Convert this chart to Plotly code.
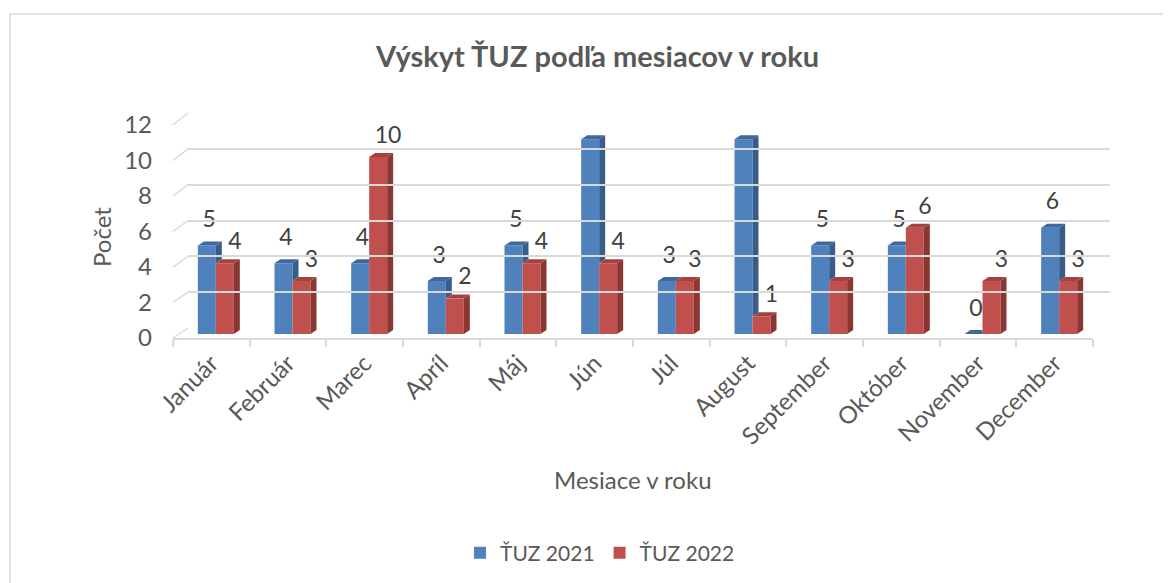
import plotly.graph_objects as go

# ---------------- data ----------------
months = ["Január", "Február", "Marec", "Apríl", "Máj", "Jún", "Júl",
          "August", "September", "Október", "November", "December"]
tuz_2021 = [5, 4, 4, 3, 5, 11, 3, 11, 5, 5, 0, 6]
tuz_2022 = [4, 3, 10, 2, 4, 4, 3, 1, 3, 6, 3, 3]
y_ticks = [0, 2, 4, 6, 8, 10, 12]
series_names = ["ŤUZ 2021", "ŤUZ 2022"]

title_text = "Výskyt ŤUZ podľa mesiacov v roku"
x_title = "Mesiace v roku"
y_title = "Počet"

# ---------------- style / geometry (window pixels) ----------------
PAGE_MARGIN = 8                 # default body margin of the html page
W, H = 1171 - PAGE_MARGIN, 583 - PAGE_MARGIN
FONT = "Lato"
TXT = "#595959"
LBL = "#404040"
GRID = "#D9D9D9"
BLUE, BLUE_SIDE, BLUE_TOP = "#4F81BD", "#385D8A", "#3F68A0"
RED, RED_SIDE, RED_TOP = "#C0504D", "#8A3633", "#A5423F"

FRONT_X0, FRONT_X1 = 173, 1093
FRONT_Y0, FRONT_Y12 = 338, 125
BACK_X0, BACK_X1 = 188, 1110
BACK_Y0, BACK_Y12 = 328, 113
BAR_DX, BAR_Y0, BAR_SCALE = 4.5, 334, 17.7
YMAX = 12

CAT_PX = (FRONT_X1 - FRONT_X0) / len(months)
BW = 18 / CAT_PX             # bar width in category units
DXU = 6 / CAT_PX             # depth offset (x) in category units
DYU = 4 / BAR_SCALE          # depth offset (y) in value units


def px(x):
    return (x - PAGE_MARGIN) / W


def py(y):
    return 1 - (y - PAGE_MARGIN) / H


fig = go.Figure()

# ---------------- bars (front faces) ----------------
idx = list(range(len(months)))
fig.add_trace(go.Bar(x=idx, y=tuz_2021, offset=-BW, width=BW, name=series_names[0],
                     marker=dict(color=BLUE, line=dict(width=0)),
                     xaxis="x2", yaxis="y2", hoverinfo="skip"))
fig.add_trace(go.Bar(x=idx, y=tuz_2022, offset=0, width=BW, name=series_names[1],
                     marker=dict(color=RED, line=dict(width=0)),
                     xaxis="x2", yaxis="y2", hoverinfo="skip"))


def poly_trace(xs, ys, color):
    return go.Scatter(x=xs, y=ys, mode="lines", fill="toself", fillcolor=color,
                      line=dict(width=0, color=color), xaxis="x2", yaxis="y2",
                      showlegend=False, hoverinfo="skip")


# blue side and top faces (clipped where the red bar hides them)
bs_x, bs_y, bt_x, bt_y = [], [], [], []
for i, (b, r) in enumerate(zip(tuz_2021, tuz_2022)):
    xl, xr = i - BW, i
    if b > r:
        bs_x += [xr, xr + DXU, xr + DXU, xr, xr, None]
        bs_y += [r, r + DYU, b + DYU, b, r, None]
    if r > b:
        bt_x += [xl, xl + DXU, xr, xr, xl, None]
        bt_y += [b, b + DYU, b + DYU, b, b, None]
    else:
        bt_x += [xl, xl + DXU, xr + DXU, xr, xl, None]
        bt_y += [b, b + DYU, b + DYU, b, b, None]
fig.add_trace(poly_trace(bs_x, bs_y, BLUE_SIDE))
fig.add_trace(poly_trace(bt_x, bt_y, BLUE_TOP))

# red side and top faces
rs_x, rs_y, rt_x, rt_y = [], [], [], []
for i, r in enumerate(tuz_2022):
    xl, xr = i, i + BW
    rs_x += [xr, xr + DXU, xr + DXU, xr, xr, None]
    rs_y += [0, DYU, r + DYU, r, 0, None]
    rt_x += [xl, xl + DXU, xr + DXU, xr, xl, None]
    rt_y += [r, r + DYU, r + DYU, r, r, None]
fig.add_trace(poly_trace(rs_x, rs_y, RED_SIDE))
fig.add_trace(poly_trace(rt_x, rt_y, RED_TOP))

# ---------------- value labels ----------------
fig.add_trace(go.Scatter(x=[i - BW / 2 + 0.03 for i in idx], y=[v + 1.36 for v in tuz_2021],
                         text=[str(v) for v in tuz_2021], mode="text", textposition="middle center",
                         textfont=dict(family=FONT, size=23, color=LBL), cliponaxis=False,
                         xaxis="x2", yaxis="y2", showlegend=False, hoverinfo="skip"))
fig.add_trace(go.Scatter(x=[i + BW / 2 + 0.13 for i in idx], y=[v + 1.13 for v in tuz_2022],
                         text=[str(v) for v in tuz_2022], mode="text", textposition="middle center",
                         textfont=dict(family=FONT, size=23, color=LBL), cliponaxis=False,
                         xaxis="x2", yaxis="y2", showlegend=False, hoverinfo="skip"))

# invisible trace to establish the front category axis
fig.add_trace(go.Scatter(x=months, y=[None] * len(months), mode="markers", xaxis="x", yaxis="y",
                         showlegend=False, hoverinfo="skip"))
# invisible trace for the back wall axes
fig.add_trace(go.Scatter(x=[0], y=[None], mode="markers", xaxis="x3", yaxis="y3",
                         showlegend=False, hoverinfo="skip"))

# ---------------- shapes: left wall diagonals, chart border ----------------
shapes = []
for v in y_ticks:
    yf = FRONT_Y0 + (FRONT_Y12 - FRONT_Y0) * v / YMAX
    yb = BACK_Y0 + (BACK_Y12 - BACK_Y0) * v / YMAX
    shapes.append(dict(type="line", xref="paper", yref="paper", layer="below",
                       x0=px(FRONT_X0), y0=py(yf), x1=px(BACK_X0), y1=py(yb),
                       line=dict(color=GRID, width=1.5)))
shapes.append(dict(type="rect", xref="paper", yref="paper", layer="below",
                   x0=px(10), y0=py(14), x1=px(1300), y1=py(700),
                   line=dict(color=GRID, width=1.5), fillcolor="rgba(0,0,0,0)"))

annotations = [
    dict(text="<b>" + title_text + "</b>", x=px(597), y=py(55), xref="paper", yref="paper",
         showarrow=False, font=dict(family=FONT, size=29, color=TXT), xanchor="center", yanchor="middle"),
    dict(text=x_title, x=px(633), y=py(479), xref="paper", yref="paper",
         showarrow=False, font=dict(family=FONT, size=24, color=TXT), xanchor="center", yanchor="middle"),
    dict(text=y_title, x=px(101), y=py(237), xref="paper", yref="paper", textangle=-90,
         showarrow=False, font=dict(family=FONT, size=24, color=TXT), xanchor="center", yanchor="middle"),
]

fig.update_layout(
    width=W, height=H,
    margin=dict(l=0, r=0, t=0, b=0, pad=0),
    paper_bgcolor="white", plot_bgcolor="rgba(0,0,0,0)",
    barmode="overlay",
    font=dict(family=FONT, color=TXT),
    showlegend=True,
    legend=dict(orientation="h", x=px(600), xanchor="center", y=py(553), yanchor="middle",
                font=dict(family=FONT, size=21, color=TXT), traceorder="normal",
                itemwidth=30, bgcolor="rgba(0,0,0,0)"),
    shapes=shapes,
    annotations=annotations,
    # front axes: category labels, y tick labels
    xaxis=dict(domain=[px(FRONT_X0), px(FRONT_X1)], type="category", range=[-0.5, 11.5],
               categoryorder="array", categoryarray=months,
               showline=True, linecolor=GRID, linewidth=1.5, ticks="outside", ticklen=7,
               tickcolor=GRID, tickwidth=1.5, tickson="boundaries", tickangle=-45,
               tickfont=dict(family=FONT, size=24, color=TXT), showgrid=False, zeroline=False,
               anchor="y", automargin=False, fixedrange=True),
    yaxis=dict(domain=[py(FRONT_Y0), py(FRONT_Y12)], range=[0, YMAX], tickvals=y_ticks,
               ticktext=[str(v) for v in y_ticks], showgrid=False, zeroline=False, showline=False,
               ticks="", ticklabelstandoff=20, tickfont=dict(family=FONT, size=24, color=TXT),
               anchor="x", automargin=False, fixedrange=True),
    # bar layer
    xaxis2=dict(domain=[px(FRONT_X0 + BAR_DX), px(FRONT_X1 + BAR_DX)], range=[-0.5, 11.5],
                visible=False, anchor="y2", automargin=False, fixedrange=True),
    yaxis2=dict(domain=[py(BAR_Y0), py(BAR_Y0 - BAR_SCALE * YMAX)], range=[0, YMAX],
                visible=False, anchor="x2", automargin=False, fixedrange=True),
    # back wall gridlines
    xaxis3=dict(domain=[px(BACK_X0), px(BACK_X1)], range=[-0.5, 11.5], showgrid=False,
                zeroline=False, showticklabels=False, showline=False, ticks="",
                anchor="y3", automargin=False, fixedrange=True),
    yaxis3=dict(domain=[py(BACK_Y0), py(BACK_Y12)], range=[-0.001, YMAX + 0.001], dtick=2, tick0=0,
                showgrid=True, gridcolor=GRID, gridwidth=1.5, zeroline=False, showticklabels=False,
                showline=False, ticks="", anchor="x3", automargin=False, fixedrange=True),
)

fig.write_html("out.html")
